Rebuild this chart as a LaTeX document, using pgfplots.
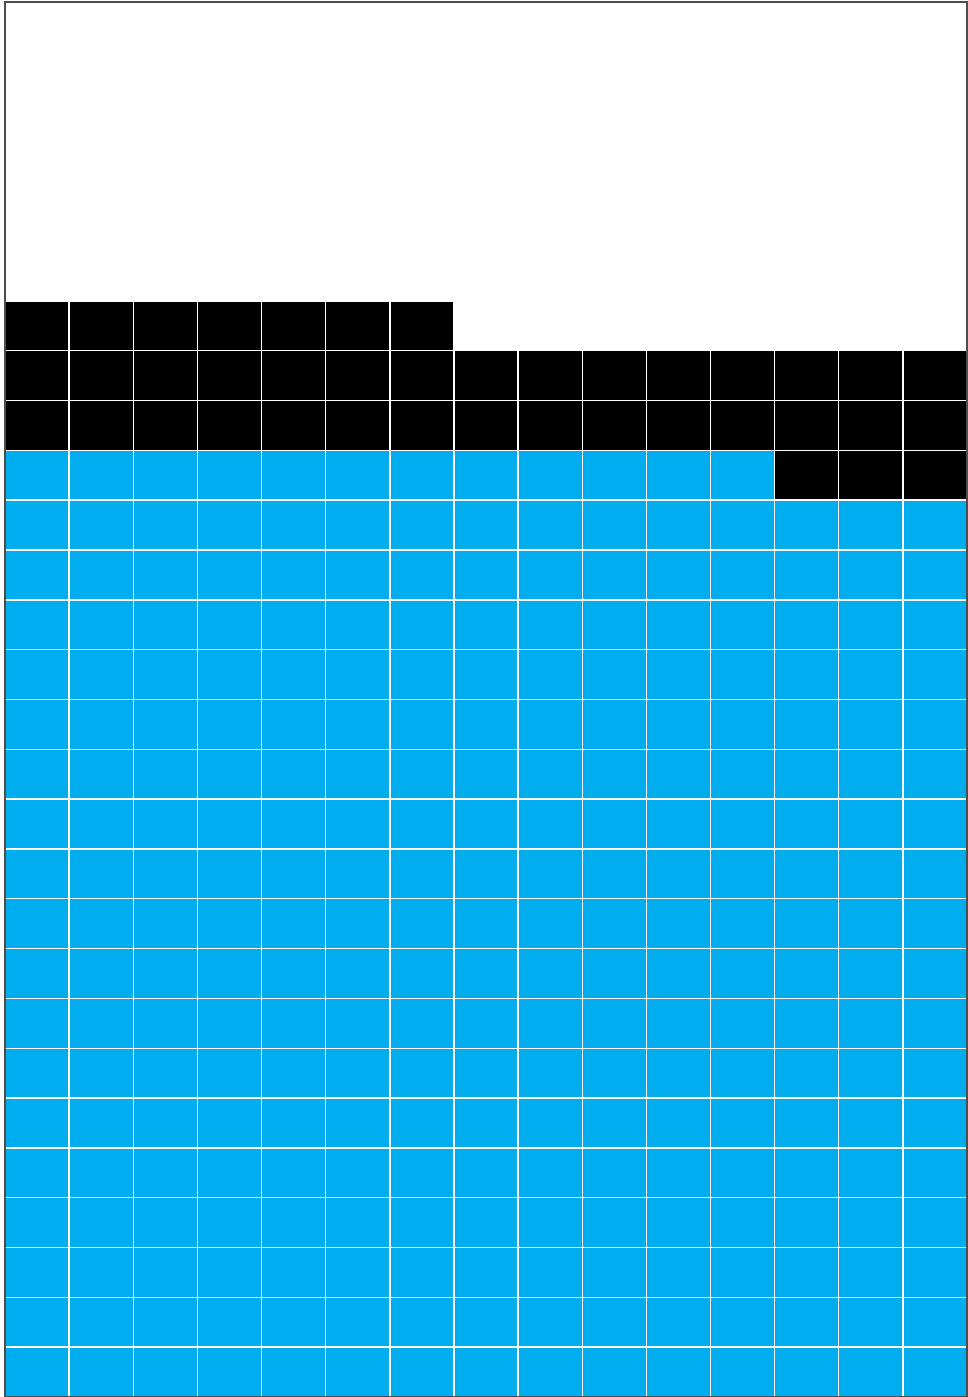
\documentclass[border=0pt]{standalone}
\usepackage{pgfplots}
\pgfplotsset{compat=1.18}
\definecolor{wblue}{HTML}{00AEEF}
\definecolor{frame}{HTML}{4D4D4D}

% cells per column (column 1 = left), blue stacked below black
\pgfplotstableread{
col blue black
0.5  19 3
1.5  19 3
2.5  19 3
3.5  19 3
4.5  19 3
5.5  19 3
6.5  19 3
7.5  19 2
8.5  19 2
9.5  19 2
10.5 19 2
11.5 19 2
12.5 18 3
13.5 18 3
14.5 18 3
}\waffle

\begin{document}
\begin{tikzpicture}
\begin{axis}[
    scale only axis,
    width=9.62cm, height=13.95cm,
    at={(0,0)}, anchor=south west,
    xmin=0, xmax=15,
    ymin=0, ymax=28,
    enlargelimits=false,
    ybar stacked,
    bar width=1,
    xtick={0,...,15},
    ytick={0,...,28},
    xticklabels={}, yticklabels={},
    major tick length=0pt,
    grid=major,
    major grid style={white, line width=0.4pt},
    axis on top,
    axis line style={frame, line width=0.45pt},
]
\addplot[fill=wblue, draw=none] table[x=col, y=blue] {\waffle};
\addplot[fill=black, draw=none] table[x=col, y=black] {\waffle};
\end{axis}
\pgfresetboundingbox
\path[use as bounding box] (-0.05cm,0) rectangle (9.63cm,13.97cm);
\end{tikzpicture}
\end{document}
